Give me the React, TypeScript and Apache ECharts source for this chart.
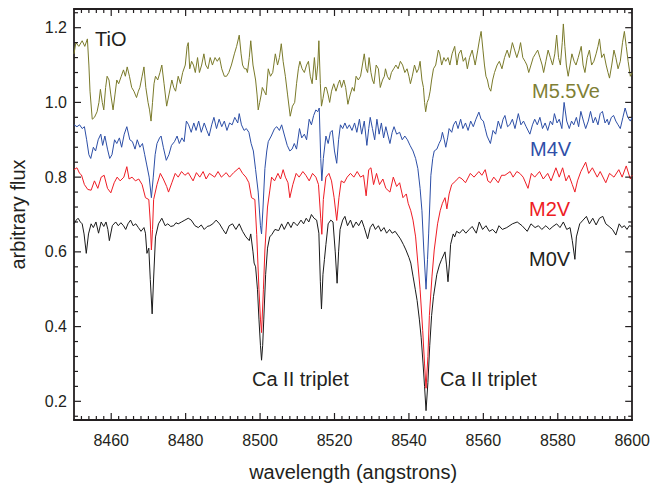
import React, { useEffect, useRef } from "react";
import * as echarts from "echarts";

// ---------- data (wavelength in Å, arbitrary flux) ----------
const m0v: [number, number][] = [
  [8450, 0.675], [8450.6, 0.685], [8451.1, 0.69], [8451.7, 0.68], [8452.2, 0.675], [8452.7, 0.648], [8453.3, 0.596],
  [8453.9, 0.648], [8454.6, 0.675], [8455.2, 0.665], [8455.9, 0.68], [8456.6, 0.65], [8457.3, 0.68], [8458, 0.668],
  [8458.6, 0.68], [8459.1, 0.66], [8459.5, 0.63], [8460.3, 0.67], [8461.2, 0.68], [8461.9, 0.67], [8462.6, 0.678],
  [8463.3, 0.67], [8463.9, 0.66], [8464.5, 0.675], [8465.2, 0.685], [8465.9, 0.67], [8466.6, 0.675], [8467.3, 0.665],
  [8468, 0.655], [8468.8, 0.665], [8469.2, 0.65], [8469.6, 0.596], [8470.1, 0.61], [8470.5, 0.526], [8471, 0.434],
  [8471.4, 0.53], [8471.9, 0.64], [8472.7, 0.675], [8473.6, 0.69], [8474.5, 0.67], [8475.2, 0.675], [8476, 0.668],
  [8476.8, 0.67], [8477.4, 0.678], [8478, 0.675], [8478.9, 0.68], [8479.8, 0.685], [8480.7, 0.69], [8481.5, 0.685],
  [8482.5, 0.67], [8483.4, 0.665], [8484.2, 0.672], [8485, 0.66], [8485.8, 0.668], [8486.5, 0.67], [8487.3, 0.675],
  [8488.2, 0.685], [8489.1, 0.675], [8490, 0.66], [8490.8, 0.648], [8491.7, 0.67], [8492.6, 0.675], [8493.5, 0.66],
  [8494.4, 0.675], [8495.3, 0.655], [8496.2, 0.64], [8497.1, 0.63], [8497.5, 0.648], [8498.1, 0.6], [8498.4, 0.57],
  [8498.8, 0.56], [8499.3, 0.5], [8499.7, 0.42], [8500.1, 0.35], [8500.4, 0.31], [8500.7, 0.35], [8501, 0.42],
  [8501.5, 0.54], [8502, 0.61], [8502.6, 0.64], [8503.2, 0.647], [8504, 0.66], [8505, 0.657], [8505.8, 0.675],
  [8506.5, 0.66], [8507.5, 0.68], [8508.3, 0.665], [8509, 0.68], [8510, 0.67], [8511, 0.685], [8511.7, 0.675],
  [8512.4, 0.69], [8513.1, 0.68], [8513.8, 0.7], [8514.5, 0.69], [8515.2, 0.685], [8515.8, 0.65], [8516.2, 0.52],
  [8516.5, 0.447], [8516.9, 0.54], [8517.3, 0.58], [8517.7, 0.62], [8518.3, 0.675], [8519, 0.685], [8519.6, 0.68],
  [8520.2, 0.6], [8520.7, 0.516], [8521.1, 0.6], [8521.5, 0.66], [8522.2, 0.685], [8522.8, 0.695], [8523.5, 0.67],
  [8524.3, 0.685], [8525, 0.665], [8525.8, 0.68], [8526.5, 0.67], [8527.3, 0.685], [8528, 0.665], [8528.9, 0.635],
  [8529.6, 0.665], [8530.3, 0.675], [8531, 0.66], [8531.8, 0.67], [8532.5, 0.655], [8533.3, 0.665], [8534, 0.65],
  [8534.8, 0.66], [8535.5, 0.65], [8536.3, 0.655], [8537, 0.645], [8537.7, 0.635], [8538.5, 0.62], [8539.2, 0.605],
  [8540, 0.585], [8540.5, 0.57], [8541.1, 0.535], [8541.7, 0.5], [8542.2, 0.47], [8542.8, 0.42], [8543.3, 0.37],
  [8543.8, 0.3], [8544.2, 0.24], [8544.6, 0.175], [8545.1, 0.25], [8545.6, 0.35], [8546.1, 0.43], [8546.6, 0.48],
  [8547.5, 0.54], [8548.2, 0.565], [8548.8, 0.58], [8549.7, 0.6], [8550.1, 0.565], [8550.5, 0.52], [8550.9, 0.57],
  [8551.2, 0.62], [8551.9, 0.648], [8552.3, 0.64], [8552.8, 0.655], [8553.6, 0.65], [8554.5, 0.66], [8555.3, 0.65],
  [8556.2, 0.66], [8557, 0.668], [8558.1, 0.65], [8558.9, 0.68], [8559.8, 0.66], [8560.7, 0.67], [8561.6, 0.655],
  [8562.5, 0.66], [8563.4, 0.65], [8564.2, 0.67], [8565.1, 0.66], [8566.3, 0.665], [8567.8, 0.675], [8569.1, 0.68],
  [8570.4, 0.67], [8571.8, 0.655], [8572.8, 0.675], [8573.9, 0.665], [8574.8, 0.67], [8575.7, 0.66], [8576.8, 0.67],
  [8577.8, 0.66], [8578.7, 0.668], [8579.7, 0.675], [8580.6, 0.665], [8581.5, 0.68], [8582.4, 0.66], [8583.3, 0.665],
  [8583.9, 0.63], [8584.6, 0.58], [8585, 0.64], [8585.9, 0.675], [8586.8, 0.685], [8587.7, 0.695], [8588.5, 0.675],
  [8589.4, 0.69], [8590.3, 0.672], [8591.2, 0.69], [8592.1, 0.695], [8592.9, 0.675], [8593.8, 0.668], [8594.7, 0.66],
  [8595.6, 0.645], [8596.5, 0.675], [8597.2, 0.665], [8597.9, 0.67], [8598.6, 0.66], [8599.2, 0.67], [8600, 0.668],
];

const m2v: [number, number][] = [
  [8450, 0.82], [8450.8, 0.825], [8451.5, 0.81], [8452, 0.806], [8452.8, 0.78], [8453.7, 0.767], [8454.6, 0.765],
  [8455.5, 0.79], [8456.4, 0.77], [8457.3, 0.8], [8458.1, 0.805], [8459, 0.77], [8459.9, 0.758], [8460.8, 0.785],
  [8461.6, 0.8], [8462.4, 0.79], [8463.4, 0.8], [8464.2, 0.828], [8464.8, 0.795], [8465.6, 0.8], [8466.5, 0.79],
  [8467.4, 0.795], [8468.3, 0.78], [8469.2, 0.745], [8470.1, 0.74], [8470.5, 0.68], [8470.8, 0.605], [8471.1, 0.66],
  [8471.4, 0.74], [8472.3, 0.78], [8473.2, 0.81], [8474, 0.795], [8474.9, 0.775], [8475.4, 0.76], [8476.3, 0.785],
  [8477.2, 0.81], [8478, 0.8], [8478.9, 0.815], [8479.8, 0.805], [8480.7, 0.812], [8481.4, 0.8], [8482, 0.79],
  [8482.9, 0.812], [8483.8, 0.8], [8484.7, 0.815], [8485.5, 0.795], [8486.4, 0.81], [8487.8, 0.8], [8488.7, 0.815],
  [8489.6, 0.8], [8490.9, 0.812], [8491.8, 0.8], [8492.9, 0.812], [8494.4, 0.825], [8495.3, 0.81], [8496.2, 0.8],
  [8497, 0.785], [8497.7, 0.745], [8498.6, 0.74], [8499.1, 0.647], [8499.7, 0.5], [8500.1, 0.42], [8500.4, 0.384],
  [8500.9, 0.5], [8501.3, 0.605], [8502, 0.72], [8502.6, 0.763], [8503.1, 0.8], [8503.9, 0.79], [8504.8, 0.81],
  [8505.5, 0.795], [8506.2, 0.82], [8506.8, 0.8], [8507.5, 0.785], [8508, 0.745], [8508.8, 0.78], [8509.7, 0.81],
  [8510.5, 0.8], [8511.5, 0.815], [8512.3, 0.805], [8513.2, 0.79], [8514.1, 0.81], [8515, 0.8], [8515.7, 0.78],
  [8516.3, 0.69], [8516.6, 0.647], [8517, 0.74], [8517.7, 0.8], [8518.5, 0.81], [8519.2, 0.79], [8519.9, 0.745],
  [8520.6, 0.684], [8521.2, 0.745], [8521.8, 0.79], [8522.6, 0.785], [8523.4, 0.8], [8524.3, 0.81], [8525.2, 0.8],
  [8526.1, 0.815], [8527, 0.8], [8527.8, 0.805], [8528.5, 0.75], [8529.2, 0.82], [8529.8, 0.825], [8530.5, 0.78],
  [8531.3, 0.81], [8532.1, 0.78], [8533, 0.795], [8533.8, 0.77], [8534.9, 0.76], [8535.8, 0.8], [8536.7, 0.775],
  [8537.5, 0.785], [8538.4, 0.745], [8539.3, 0.755], [8539.8, 0.73], [8540.5, 0.71], [8541.1, 0.685], [8541.8, 0.64],
  [8542.4, 0.57], [8543, 0.5], [8543.7, 0.39], [8544.2, 0.3], [8544.6, 0.235], [8545.1, 0.32], [8545.5, 0.43],
  [8546.2, 0.535], [8546.8, 0.605], [8547.7, 0.675], [8548.4, 0.71], [8549, 0.73], [8549.7, 0.745], [8550.2, 0.715],
  [8550.8, 0.755], [8551.5, 0.78], [8552.6, 0.79], [8553.5, 0.8], [8554.3, 0.795], [8555.2, 0.785], [8556.5, 0.81],
  [8557.5, 0.8], [8558.8, 0.815], [8559.6, 0.805], [8560.5, 0.82], [8561.2, 0.79], [8561.9, 0.785], [8562.8, 0.8],
  [8564, 0.785], [8564.9, 0.805], [8565.8, 0.805], [8567.2, 0.815], [8568, 0.8], [8569, 0.815], [8569.8, 0.81],
  [8570.7, 0.8], [8572, 0.77], [8572.9, 0.81], [8573.8, 0.8], [8575.1, 0.815], [8576.1, 0.795], [8577.3, 0.81],
  [8578.2, 0.79], [8579.5, 0.825], [8580.4, 0.8], [8581.3, 0.825], [8582.2, 0.79], [8583, 0.805], [8583.9, 0.78],
  [8584.6, 0.76], [8585.3, 0.79], [8586.2, 0.815], [8587.5, 0.84], [8588.3, 0.81], [8589.3, 0.825], [8590.6, 0.8],
  [8591.4, 0.815], [8592.9, 0.785], [8593.9, 0.81], [8595.1, 0.8], [8596.4, 0.82], [8597.3, 0.8], [8598.4, 0.83],
  [8599.5, 0.795], [8600, 0.805],
];

const m4v: [number, number][] = [
  [8450, 0.94], [8450.8, 0.935], [8451.5, 0.94], [8452.2, 0.93], [8452.8, 0.935], [8453.4, 0.9], [8454, 0.86],
  [8454.5, 0.85], [8455.2, 0.88], [8455.8, 0.87], [8456.5, 0.9], [8457.2, 0.915], [8457.7, 0.885], [8458.3, 0.91],
  [8459, 0.875], [8459.6, 0.85], [8460.2, 0.86], [8460.9, 0.9], [8461.5, 0.89], [8462.2, 0.905], [8462.8, 0.88],
  [8463.5, 0.915], [8464.2, 0.935], [8465, 0.9], [8465.7, 0.895], [8466.4, 0.875], [8467, 0.9], [8467.7, 0.88],
  [8468.4, 0.89], [8469, 0.86], [8469.5, 0.835], [8470.2, 0.8], [8470.8, 0.745], [8471.3, 0.8], [8471.8, 0.86],
  [8472.3, 0.89], [8473, 0.905], [8473.4, 0.91], [8474, 0.88], [8474.8, 0.845], [8475.5, 0.86], [8476.2, 0.885],
  [8477, 0.895], [8477.7, 0.91], [8478.3, 0.89], [8479, 0.905], [8479.6, 0.895], [8480.2, 0.95], [8480.8, 0.94],
  [8481.5, 0.92], [8482.2, 0.945], [8482.8, 0.925], [8483.5, 0.95], [8484.2, 0.92], [8485, 0.945], [8485.7, 0.925],
  [8486.3, 0.91], [8487, 0.94], [8487.6, 0.96], [8488.3, 0.93], [8489, 0.955], [8489.7, 0.935], [8490.4, 0.95],
  [8491.1, 0.925], [8491.8, 0.945], [8492.5, 0.94], [8493.2, 0.96], [8494, 0.945], [8494.4, 0.97], [8495, 0.94],
  [8495.7, 0.925], [8496.3, 0.93], [8497, 0.92], [8497.6, 0.89], [8498.2, 0.87], [8498.8, 0.82], [8499.5, 0.76],
  [8500.1, 0.67], [8500.4, 0.648], [8500.8, 0.72], [8501.3, 0.823], [8501.8, 0.87], [8502.2, 0.895], [8503, 0.91],
  [8503.9, 0.93], [8504.5, 0.935], [8505.2, 0.925], [8505.8, 0.94], [8506.6, 0.91], [8507.3, 0.885], [8508, 0.87],
  [8508.6, 0.875], [8509.2, 0.89], [8509.8, 0.875], [8510.6, 0.93], [8511.2, 0.905], [8511.9, 0.915], [8512.5, 0.9],
  [8513.2, 0.955], [8513.8, 0.94], [8514.4, 0.965], [8515, 0.98], [8515.5, 0.975], [8515.9, 0.985], [8516.3, 0.85],
  [8516.6, 0.79], [8517, 0.85], [8517.7, 0.91], [8518.3, 0.89], [8518.9, 0.92], [8519.4, 0.925], [8520, 0.87],
  [8520.6, 0.837], [8521.1, 0.9], [8521.6, 0.94], [8522.2, 0.93], [8522.8, 0.945], [8523.4, 0.93], [8524, 0.94],
  [8524.7, 0.925], [8525.4, 0.945], [8526, 0.92], [8526.7, 0.955], [8527.3, 0.915], [8528, 0.95], [8528.7, 0.885],
  [8529.2, 0.93], [8529.6, 0.96], [8530.2, 0.93], [8530.8, 0.9], [8531.4, 0.955], [8532, 0.915], [8532.6, 0.945],
  [8533.2, 0.905], [8533.8, 0.935], [8534.4, 0.91], [8534.9, 0.89], [8535.5, 0.92], [8536, 0.935], [8536.7, 0.915],
  [8537.5, 0.92], [8538.2, 0.9], [8538.9, 0.91], [8539.6, 0.9], [8540.3, 0.885], [8541.1, 0.87], [8541.8, 0.85],
  [8542.4, 0.823], [8543, 0.77], [8543.5, 0.71], [8544, 0.605], [8544.6, 0.5], [8545, 0.58], [8545.3, 0.648],
  [8545.9, 0.805], [8546.4, 0.85], [8546.8, 0.87], [8547.5, 0.875], [8548.1, 0.89], [8548.6, 0.9], [8549, 0.92],
  [8549.5, 0.9], [8549.9, 0.88], [8550.4, 0.905], [8550.8, 0.93], [8551.5, 0.92], [8552, 0.94], [8552.6, 0.95],
  [8553.2, 0.93], [8553.9, 0.955], [8554.5, 0.93], [8555.2, 0.945], [8555.9, 0.925], [8556.6, 0.95], [8557.3, 0.935],
  [8558, 0.955], [8558.8, 0.974], [8559.4, 0.955], [8560, 0.95], [8560.5, 0.93], [8561, 0.91], [8561.9, 0.89],
  [8562.6, 0.925], [8563.3, 0.915], [8564, 0.95], [8564.7, 0.93], [8565.3, 0.955], [8565.8, 0.965], [8566.5, 0.935],
  [8567.1, 0.94], [8567.8, 0.955], [8568.5, 0.93], [8569.4, 0.97], [8570.1, 0.94], [8570.8, 0.95], [8571.5, 0.935],
  [8572.5, 0.915], [8573.2, 0.94], [8573.8, 0.955], [8574.5, 0.94], [8575.2, 0.96], [8575.9, 0.93], [8576.6, 0.945],
  [8577.3, 0.925], [8578, 0.95], [8578.6, 0.94], [8579.1, 0.97], [8579.8, 0.945], [8580.4, 0.955], [8581.1, 0.93],
  [8581.7, 1.0], [8582.4, 0.95], [8583.1, 0.93], [8583.7, 0.95], [8584.3, 0.94], [8585, 0.96], [8585.6, 0.935],
  [8586.2, 0.976], [8586.9, 0.95], [8587.5, 0.93], [8588.2, 0.95], [8588.8, 0.976], [8589.5, 0.945], [8590.1, 0.96],
  [8590.8, 0.94], [8591.4, 0.97], [8592, 0.976], [8592.7, 0.945], [8593.3, 0.955], [8593.7, 0.94], [8594.4, 0.96],
  [8595, 0.965], [8595.6, 0.95], [8596.2, 0.94], [8596.8, 0.93], [8597.5, 0.96], [8598.1, 0.985], [8598.8, 0.96],
  [8599.5, 0.95], [8600, 0.96],
];

const m55ve: [number, number][] = [
  [8450, 1.13], [8450.5, 1.16], [8451.3, 1.15], [8452.2, 1.165], [8452.9, 1.15], [8453.6, 1.17], [8454, 1.1],
  [8454.3, 1.03], [8454.9, 0.955], [8455.5, 0.96], [8456.2, 0.975], [8456.7, 1.0], [8457.1, 1.035], [8457.6, 1.0],
  [8458, 0.98], [8458.5, 1.04], [8458.9, 1.07], [8459.4, 1.06], [8459.9, 1.02], [8460.5, 0.98], [8461, 1.02],
  [8461.5, 1.06], [8462, 1.05], [8462.7, 1.07], [8463.3, 1.087], [8463.8, 1.07], [8464.3, 1.095], [8464.9, 1.07],
  [8465.5, 1.04], [8466.1, 1.03], [8466.8, 1.013], [8467.3, 1.03], [8467.7, 1.04], [8468.3, 1.07], [8468.8, 1.095],
  [8469.3, 1.04], [8469.9, 1.0], [8470.3, 0.98], [8470.7, 0.95], [8471.1, 1.0], [8471.5, 1.05], [8471.9, 1.07],
  [8472.5, 1.06], [8473.1, 1.08], [8473.6, 1.1], [8474.2, 1.05], [8474.9, 0.99], [8475.5, 1.02], [8476.3, 1.06],
  [8476.8, 1.04], [8477.3, 1.03], [8478, 1.07], [8478.6, 1.05], [8479.2, 1.08], [8479.9, 1.1], [8480.4, 1.15],
  [8480.7, 1.16], [8481.1, 1.09], [8481.6, 1.11], [8482.1, 1.1], [8482.6, 1.08], [8483.2, 1.12], [8483.7, 1.08],
  [8484.3, 1.1], [8484.9, 1.13], [8485.4, 1.1], [8486, 1.09], [8486.6, 1.12], [8487.2, 1.1], [8487.9, 1.12],
  [8488.5, 1.11], [8489.1, 1.12], [8489.7, 1.09], [8490.4, 1.07], [8491, 1.07], [8491.6, 1.08], [8492.3, 1.1],
  [8493.1, 1.13], [8493.7, 1.15], [8494.4, 1.18], [8494.9, 1.13], [8495.3, 1.1], [8495.8, 1.09], [8496.3, 1.09],
  [8496.6, 1.08], [8497.1, 1.12], [8497.5, 1.165], [8498.1, 1.1], [8498.8, 1.06], [8499.2, 1.02], [8499.5, 0.98],
  [8499.9, 1.0], [8500.3, 1.02], [8500.6, 1.04], [8501.1, 1.03], [8501.6, 1.02], [8502.2, 1.09], [8502.8, 1.07],
  [8503.4, 1.08], [8504.1, 1.13], [8504.7, 1.1], [8505.2, 1.12], [8505.7, 1.157], [8506.2, 1.11], [8506.8, 1.07],
  [8507.4, 1.02], [8508.1, 0.963], [8508.7, 0.99], [8509.3, 1.0], [8509.8, 1.05], [8510.3, 1.09], [8510.7, 1.11],
  [8511.3, 1.09], [8511.9, 1.08], [8512.5, 1.1], [8513, 1.11], [8513.5, 1.07], [8514, 1.05], [8514.6, 1.12],
  [8515.1, 1.06], [8515.5, 1.1], [8515.8, 1.165], [8516.2, 1.05], [8516.5, 0.99], [8516.9, 1.01], [8517.4, 1.04],
  [8517.8, 1.04], [8518.3, 1.02], [8518.7, 1.0], [8519.2, 1.03], [8519.8, 1.05], [8520.4, 1.03], [8521, 1.05],
  [8521.4, 1.06], [8521.9, 1.04], [8522.5, 1.06], [8523, 1.04], [8523.6, 0.995], [8524.2, 1.02], [8524.8, 1.04],
  [8525.3, 1.03], [8525.8, 1.07], [8526.4, 1.06], [8527, 1.07], [8527.5, 1.1], [8528, 1.13], [8528.5, 1.09],
  [8528.9, 1.08], [8529.3, 1.12], [8529.8, 1.08], [8530.2, 1.06], [8530.6, 1.05], [8531.2, 1.1], [8531.8, 1.09],
  [8532.3, 1.04], [8532.9, 1.06], [8533.4, 1.07], [8533.7, 1.09], [8534.2, 1.07], [8534.8, 1.06], [8535.3, 1.08],
  [8535.9, 1.09], [8536.5, 1.1], [8537.1, 1.09], [8537.7, 1.11], [8538.3, 1.1], [8538.9, 1.08], [8539.5, 1.09],
  [8540, 1.07], [8540.4, 1.05], [8540.9, 1.07], [8541.5, 1.1], [8542.1, 1.08], [8542.6, 1.09], [8543, 1.11],
  [8543.5, 1.06], [8543.9, 1.04], [8544.2, 1.0], [8544.5, 0.975], [8544.9, 1.0], [8545.3, 1.01], [8545.7, 1.03],
  [8546.1, 1.06], [8546.6, 1.09], [8547.2, 1.1], [8547.9, 1.14], [8548.3, 1.13], [8548.8, 1.1], [8549.4, 1.12],
  [8549.9, 1.11], [8550.5, 1.12], [8551, 1.1], [8551.6, 1.13], [8552.3, 1.15], [8552.9, 1.1], [8553.4, 1.13],
  [8554, 1.14], [8554.6, 1.11], [8555.2, 1.12], [8555.7, 1.09], [8556.3, 1.12], [8557, 1.14], [8557.8, 1.1],
  [8558.5, 1.14], [8559, 1.17], [8559.4, 1.19], [8559.9, 1.14], [8560.3, 1.1], [8560.7, 1.07], [8561.1, 1.06],
  [8561.5, 1.04], [8562, 1.03], [8562.5, 1.06], [8563, 1.08], [8563.7, 1.1], [8564.3, 1.11], [8565, 1.09],
  [8565.7, 1.12], [8566.4, 1.14], [8567, 1.12], [8567.8, 1.16], [8568.4, 1.14], [8569, 1.12], [8569.6, 1.14],
  [8570, 1.16], [8570.6, 1.12], [8571.2, 1.11], [8571.7, 1.1], [8572.2, 1.08], [8572.8, 1.1], [8573.4, 1.12],
  [8574, 1.13], [8574.6, 1.14], [8575.2, 1.12], [8575.8, 1.1], [8576.2, 1.08], [8576.8, 1.11], [8577.4, 1.14],
  [8578, 1.12], [8578.6, 1.1], [8579.2, 1.13], [8579.7, 1.18], [8580.2, 1.12], [8580.7, 1.1], [8581.2, 1.16],
  [8581.5, 1.21], [8581.9, 1.15], [8582.3, 1.1], [8582.8, 1.07], [8583.3, 1.1], [8583.8, 1.13], [8584.4, 1.11],
  [8584.9, 1.1], [8585.5, 1.12], [8586.3, 1.15], [8586.8, 1.1], [8587.3, 1.08], [8587.9, 1.12], [8588.5, 1.14],
  [8589.1, 1.1], [8589.7, 1.11], [8590.3, 1.13], [8590.8, 1.15], [8591.2, 1.17], [8591.8, 1.12], [8592.4, 1.13],
  [8593, 1.1], [8593.5, 1.08], [8593.9, 1.065], [8594.5, 1.1], [8595.1, 1.14], [8595.6, 1.12], [8596.2, 1.09],
  [8596.8, 1.11], [8597.4, 1.16], [8597.9, 1.19], [8598.4, 1.15], [8598.9, 1.11], [8599.5, 1.07], [8600, 1.08],
];

// ---------- axes ----------
const X_MIN = 8450;
const X_MAX = 8600;
const Y_MIN = 0.15;
const Y_MAX = 1.25;
const xTickValues = [8460, 8480, 8500, 8520, 8540, 8560, 8580, 8600];
const yTickValues = [0.2, 0.4, 0.6, 0.8, 1.0, 1.2];
const xMinorValues: number[] = [];
for (let v = 8452; v < 8600; v += 2) if (v % 20 !== 0) xMinorValues.push(v);
const yMinorValues: number[] = [];
for (let i = 0; i <= 27; i++) {
  const v = Math.round((0.16 + i * 0.04) * 100) / 100;
  if (Math.round(v * 100) % 20 !== 0) yMinorValues.push(v);
}

const FONT = "'Liberation Sans', Arial, Helvetica, sans-serif";
const TEXT = "#231f20";
const MAJOR_LEN = 7;
const MINOR_LEN = 4;

export default function App() {
  const ref = useRef<HTMLDivElement>(null);
  useEffect(() => {
    if (!ref.current) return;
    const chart = echarts.init(ref.current, undefined, { renderer: "svg" });
    const lineAxis = { show: true, onZero: false, lineStyle: { color: TEXT, width: 1.8 } };
    const mkX = (pos: "top" | "bottom", labels: boolean) => ({
      type: "value", position: pos, min: X_MIN, max: X_MAX, gridIndex: 0,
      axisLine: lineAxis,
      axisTick: { show: false },
      axisLabel: labels
        ? {
            show: true, customValues: xTickValues, fontSize: 16, fontFamily: FONT, color: TEXT, margin: 12,
            formatter: (v: number) => String(Math.round(v)),
          }
        : { show: false },
      splitLine: { show: false },
      ...(labels
        ? {
            name: "wavelength (angstrons)", nameLocation: "middle", nameGap: 42,
            nameTextStyle: { fontSize: 20, fontFamily: FONT, color: TEXT },
          }
        : {}),
    });
    const mkY = (pos: "left" | "right", labels: boolean) => ({
      type: "value", position: pos, min: Y_MIN, max: Y_MAX, gridIndex: 0,
      axisLine: lineAxis,
      axisTick: { show: false },
      axisLabel: labels
        ? {
            show: true, customValues: yTickValues, fontSize: 16, fontFamily: FONT, color: TEXT, margin: 7,
            formatter: (v: number) => v.toFixed(1),
          }
        : { show: false },
      splitLine: { show: false },
      ...(labels
        ? {
            name: "arbitrary flux", nameLocation: "middle", nameGap: 46,
            nameTextStyle: { fontSize: 20, fontFamily: FONT, color: TEXT },
          }
        : {}),
    });
    const mkSeries = (name: string, data: [number, number][], color: string) => ({
      name, type: "line", data, xAxisIndex: 0, yAxisIndex: 0, showSymbol: false, smooth: false,
      lineStyle: { color, width: 1 }, silent: true, z: 2,
    });
    const tickStyle = { stroke: TEXT, lineWidth: 1.2 };
    // x ticks: [value, dummy y, length]
    const xTickData = [
      ...xTickValues.filter((v) => v < X_MAX).map((v) => [v, 0.7, MAJOR_LEN]),
      ...xMinorValues.map((v) => [v, 0.7, MINOR_LEN]),
    ];
    const yTickData = [
      ...yTickValues.map((v) => [8500, v, MAJOR_LEN]),
      ...yMinorValues.map((v) => [8500, v, MINOR_LEN]),
    ];
    const xTicks = {
      type: "custom", xAxisIndex: 0, yAxisIndex: 0, silent: true, clip: false, z: 5,
      data: xTickData,
      renderItem: (params: any, api: any) => {
        const cs = params.coordSys;
        const px = api.coord([api.value(0), Y_MIN])[0];
        const len = api.value(2);
        const top = cs.y;
        const bottom = cs.y + cs.height;
        return {
          type: "group",
          children: [
            { type: "line", shape: { x1: px, y1: bottom, x2: px, y2: bottom - len }, style: tickStyle },
            { type: "line", shape: { x1: px, y1: top, x2: px, y2: top + len }, style: tickStyle },
          ],
        };
      },
    };
    const yTicks = {
      type: "custom", xAxisIndex: 0, yAxisIndex: 0, silent: true, clip: false, z: 5,
      data: yTickData,
      renderItem: (params: any, api: any) => {
        const cs = params.coordSys;
        const py = api.coord([X_MIN, api.value(1)])[1];
        const len = api.value(2);
        const left = cs.x;
        const right = cs.x + cs.width;
        return {
          type: "group",
          children: [
            { type: "line", shape: { x1: left, y1: py, x2: left + len, y2: py }, style: tickStyle },
            { type: "line", shape: { x1: right, y1: py, x2: right - len, y2: py }, style: tickStyle },
          ],
        };
      },
    };
    const label = (text: string, x: number, y: number, fill: string) => ({
      type: "text", x, y, silent: true,
      style: { text, fill, fontSize: 20, fontFamily: FONT, verticalAlign: "middle", align: "left" },
    });
    chart.setOption({
      animation: false,
      backgroundColor: "#ffffff",
      grid: { left: 69, right: 17, top: 9, bottom: 62, containLabel: false },
      xAxis: [mkX("bottom", true), mkX("top", false)],
      yAxis: [mkY("left", true), mkY("right", false)],
      series: [
        mkSeries("M0V", m0v, "#1a1a1a"),
        mkSeries("M2V", m2v, "#ee1c24"),
        mkSeries("M4V", m4v, "#2c4ea6"),
        mkSeries("M5.5Ve", m55ve, "#7a7a2a"),
        xTicks,
        yTicks,
      ],
      graphic: [
        label("TiO", 95, 39, TEXT),
        label("M5.5Ve", 532, 91, "#7f7f35"),
        label("M4V", 530, 149, "#2f4fa8"),
        label("M2V", 529, 209, "#ee1c24"),
        label("M0V", 529, 259, TEXT),
        label("Ca II triplet", 252, 379, TEXT),
        label("Ca II triplet", 440, 379, TEXT),
      ],
    });
    return () => chart.dispose();
  }, []);
  return (
    <div
      ref={ref}
      style={{ position: "fixed", left: 0, top: 0, width: 653, height: 487, background: "#fff" }}
    />
  );
}
